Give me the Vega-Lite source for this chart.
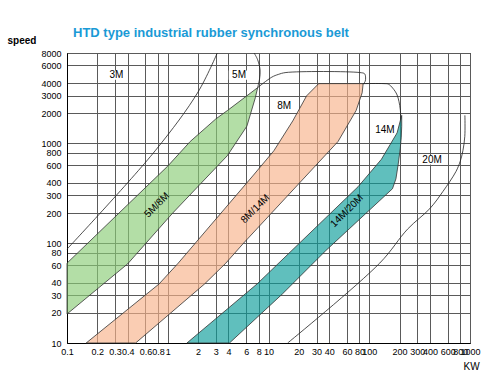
{
  "$schema": "https://vega.github.io/schema/vega-lite/v6.json",
  "width": 403,
  "height": 290,
  "autosize": {"type": "none"},
  "padding": {"left": 67, "top": 53, "right": 23, "bottom": 43},
  "background": "white",
  "title": {
    "text": "HTD type industrial rubber synchronous belt",
    "anchor": "start",
    "frame": "group",
    "dx": 6,
    "offset": -5,
    "font": "Liberation Sans",
    "fontSize": 13,
    "fontWeight": "bold",
    "color": "#1a9ad6"
  },
  "config": {
    "view": {"stroke": "#000", "strokeWidth": 1},
    "axis": {
      "grid": true,
      "gridColor": "#5a5a5a",
      "gridWidth": 1,
      "gridOpacity": 1,
      "ticks": false,
      "tickSize": 0,
      "domainColor": "#000",
      "labelFont": "Liberation Sans",
      "labelFontSize": 9,
      "labelColor": "#000",
      "labelOverlap": false,
      "labelFlush": false,
      "labelBound": false,
      "titleFont": "Liberation Sans",
      "titleColor": "#000"
    }
  },
  "datasets": {
    "shapes": [
      {"s": "green", "i": 0, "kw": 0.1, "rpm": 63},
      {"s": "green", "i": 1, "kw": 1, "rpm": 590},
      {"s": "green", "i": 2, "kw": 1.67, "rpm": 1040},
      {"s": "green", "i": 3, "kw": 3, "rpm": 1750},
      {"s": "green", "i": 4, "kw": 3.9, "rpm": 2120},
      {"s": "green", "i": 5, "kw": 7.8, "rpm": 3600},
      {"s": "green", "i": 6, "kw": 7.4, "rpm": 2850},
      {"s": "green", "i": 7, "kw": 6.1, "rpm": 1480},
      {"s": "green", "i": 8, "kw": 3.9, "rpm": 750},
      {"s": "green", "i": 9, "kw": 1.12, "rpm": 200},
      {"s": "green", "i": 10, "kw": 0.4, "rpm": 62},
      {"s": "green", "i": 11, "kw": 0.1, "rpm": 19.5},
      {"s": "green", "i": 12, "kw": 0.1, "rpm": 63},

      {"s": "orange", "i": 0, "kw": 0.155, "rpm": 10},
      {"s": "orange", "i": 1, "kw": 0.82, "rpm": 39},
      {"s": "orange", "i": 2, "kw": 1.27, "rpm": 63},
      {"s": "orange", "i": 3, "kw": 7.1, "rpm": 480},
      {"s": "orange", "i": 4, "kw": 11.3, "rpm": 840},
      {"s": "orange", "i": 5, "kw": 17.4, "rpm": 1670},
      {"s": "orange", "i": 6, "kw": 23.9, "rpm": 2980},
      {"s": "orange", "i": 7, "kw": 31.5, "rpm": 3950},
      {"s": "orange", "i": 8, "kw": 87, "rpm": 3950},
      {"s": "orange", "i": 9, "kw": 85, "rpm": 3190},
      {"s": "orange", "i": 10, "kw": 74, "rpm": 2120},
      {"s": "orange", "i": 11, "kw": 49, "rpm": 1040},
      {"s": "orange", "i": 12, "kw": 5.66, "rpm": 100},
      {"s": "orange", "i": 13, "kw": 3.77, "rpm": 63},
      {"s": "orange", "i": 14, "kw": 2.32, "rpm": 39},
      {"s": "orange", "i": 15, "kw": 0.48, "rpm": 10},
      {"s": "orange", "i": 16, "kw": 0.155, "rpm": 10},

      {"s": "teal", "i": 0, "kw": 1.55, "rpm": 10},
      {"s": "teal", "i": 1, "kw": 7.7, "rpm": 39},
      {"s": "teal", "i": 2, "kw": 77.5, "rpm": 367},
      {"s": "teal", "i": 3, "kw": 132, "rpm": 690},
      {"s": "teal", "i": 4, "kw": 189, "rpm": 1270},
      {"s": "teal", "i": 5, "kw": 210, "rpm": 1900},
      {"s": "teal", "i": 6, "kw": 210, "rpm": 1480},
      {"s": "teal", "i": 7, "kw": 208, "rpm": 1150},
      {"s": "teal", "i": 8, "kw": 203, "rpm": 880},
      {"s": "teal", "i": 9, "kw": 194, "rpm": 620},
      {"s": "teal", "i": 10, "kw": 184, "rpm": 440},
      {"s": "teal", "i": 11, "kw": 170, "rpm": 350},
      {"s": "teal", "i": 12, "kw": 37, "rpm": 84},
      {"s": "teal", "i": 13, "kw": 13.75, "rpm": 31},
      {"s": "teal", "i": 14, "kw": 4.1, "rpm": 10},
      {"s": "teal", "i": 15, "kw": 1.55, "rpm": 10},

      {"s": "3M", "i": 0, "kw": 0.1, "rpm": 87},
      {"s": "3M", "i": 1, "kw": 0.75, "rpm": 840},
      {"s": "3M", "i": 2, "kw": 2, "rpm": 3260},
      {"s": "3M", "i": 3, "kw": 3.1, "rpm": 8000},

      {"s": "5M", "i": 0, "kw": 7.8, "rpm": 3600},
      {"s": "5M", "i": 1, "kw": 8.15, "rpm": 4400},
      {"s": "5M", "i": 2, "kw": 8.25, "rpm": 5400},
      {"s": "5M", "i": 3, "kw": 7.8, "rpm": 6850},
      {"s": "5M", "i": 4, "kw": 7.2, "rpm": 8000},

      {"s": "8M", "i": 0, "kw": 7.8, "rpm": 3600},
      {"s": "8M", "i": 1, "kw": 10.8, "rpm": 4590},
      {"s": "8M", "i": 2, "kw": 12.5, "rpm": 4880},
      {"s": "8M", "i": 3, "kw": 14.9, "rpm": 5100},
      {"s": "8M", "i": 4, "kw": 80, "rpm": 5100},
      {"s": "8M", "i": 5, "kw": 90, "rpm": 4950},
      {"s": "8M", "i": 6, "kw": 92, "rpm": 4500},
      {"s": "8M", "i": 7, "kw": 91, "rpm": 4150},
      {"s": "8M", "i": 8, "kw": 87, "rpm": 3900},

      {"s": "14M", "i": 0, "kw": 87, "rpm": 3950},
      {"s": "14M", "i": 1, "kw": 140, "rpm": 3950},
      {"s": "14M", "i": 2, "kw": 155, "rpm": 3900},
      {"s": "14M", "i": 3, "kw": 171, "rpm": 3560},
      {"s": "14M", "i": 4, "kw": 189, "rpm": 3040},
      {"s": "14M", "i": 5, "kw": 203, "rpm": 2200},
      {"s": "14M", "i": 6, "kw": 205, "rpm": 1730},

      {"s": "20M", "i": 0, "kw": 15.5, "rpm": 10},
      {"s": "20M", "i": 1, "kw": 127, "rpm": 63},
      {"s": "20M", "i": 2, "kw": 240, "rpm": 138},
      {"s": "20M", "i": 3, "kw": 400, "rpm": 222},
      {"s": "20M", "i": 4, "kw": 540, "rpm": 330},
      {"s": "20M", "i": 5, "kw": 725, "rpm": 520},
      {"s": "20M", "i": 6, "kw": 800, "rpm": 660},
      {"s": "20M", "i": 7, "kw": 850, "rpm": 840},
      {"s": "20M", "i": 8, "kw": 888, "rpm": 1170},
      {"s": "20M", "i": 9, "kw": 890, "rpm": 1900}
    ],
    "labels": [
      {"t": "3M", "kw": 0.31, "rpm": 4800},
      {"t": "5M", "kw": 5.1, "rpm": 4800},
      {"t": "8M", "kw": 14.3, "rpm": 2350},
      {"t": "14M", "kw": 143, "rpm": 1350},
      {"t": "20M", "kw": 420, "rpm": 680}
    ],
    "bands": [
      {"t": "5M/8M", "kw": 0.78, "rpm": 240},
      {"t": "8M/14M", "kw": 7.4, "rpm": 220},
      {"t": "14M/20M", "kw": 60, "rpm": 210}
    ]
  },
  "encoding": {
    "x": {
      "field": "kw",
      "type": "quantitative",
      "scale": {"type": "log", "domain": [0.1, 1000], "nice": false},
      "axis": {
        "values": [0.1, 0.2, 0.3, 0.4, 0.6, 0.8, 1, 2, 3, 4, 6, 8, 10, 20, 30, 40, 60, 80, 100, 200, 300, 400, 600, 800, 1000],
        "format": "~g",
        "labelPadding": 4,
        "title": "KW",
        "titleX": 396,
        "titleY": 26,
        "titleAlign": "left",
        "titleBaseline": "alphabetic",
        "titleFontWeight": "normal",
        "titleFontSize": 10
      }
    },
    "y": {
      "field": "rpm",
      "type": "quantitative",
      "scale": {"type": "log", "domain": [10, 8000], "nice": false},
      "axis": {
        "values": [10, 20, 30, 40, 60, 80, 100, 200, 300, 400, 600, 800, 1000, 2000, 3000, 4000, 6000, 8000],
        "format": "~g",
        "labelPadding": 6,
        "title": "speed",
        "titleAngle": 0,
        "titleX": -60,
        "titleY": -10,
        "titleAlign": "left",
        "titleBaseline": "alphabetic",
        "titleFontWeight": "bold",
        "titleFontSize": 10
      }
    }
  },
  "layer": [
    {
      "data": {"name": "shapes"},
      "transform": [{"filter": "datum.s === 'green'"}],
      "mark": {"type": "line", "fill": "#8acc76", "fillOpacity": 0.65, "stroke": "#333", "strokeWidth": 0.8},
      "encoding": {"order": {"field": "i", "type": "quantitative"}}
    },
    {
      "data": {"name": "shapes"},
      "transform": [{"filter": "datum.s === 'orange'"}],
      "mark": {"type": "line", "fill": "#f7b28a", "fillOpacity": 0.65, "stroke": "#333", "strokeWidth": 0.8},
      "encoding": {"order": {"field": "i", "type": "quantitative"}}
    },
    {
      "data": {"name": "shapes"},
      "transform": [{"filter": "datum.s === 'teal'"}],
      "mark": {"type": "line", "fill": "#0a9d99", "fillOpacity": 0.65, "stroke": "#333", "strokeWidth": 0.8},
      "encoding": {"order": {"field": "i", "type": "quantitative"}}
    },
    {
      "data": {"name": "shapes"},
      "transform": [{"filter": "datum.s !== 'green' && datum.s !== 'orange' && datum.s !== 'teal'"}],
      "mark": {"type": "line", "stroke": "#222", "strokeWidth": 0.8, "interpolate": "catmull-rom"},
      "encoding": {
        "detail": {"field": "s", "type": "nominal"},
        "order": {"field": "i", "type": "quantitative"}
      }
    },
    {
      "data": {"name": "labels"},
      "mark": {"type": "point", "shape": "M-1,-0.45H1V0.45H-1Z", "filled": true, "fill": "white", "fillOpacity": 1, "strokeWidth": 0, "size": 420},
      "encoding": {}
    },
    {
      "data": {"name": "labels"},
      "mark": {"type": "text", "font": "Liberation Sans", "fontSize": 10, "color": "#000"},
      "encoding": {"text": {"field": "t"}}
    },
    {
      "data": {"name": "bands"},
      "mark": {"type": "text", "font": "Liberation Sans", "fontSize": 10, "color": "#000", "angle": -45},
      "encoding": {"text": {"field": "t"}}
    }
  ]
}
